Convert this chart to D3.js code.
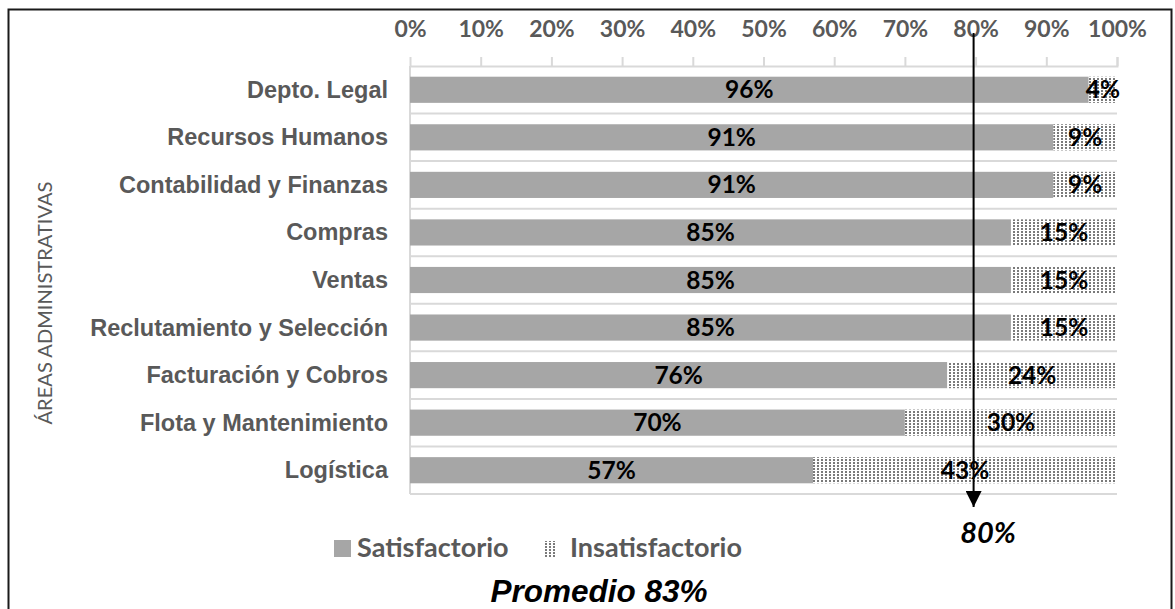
<!DOCTYPE html>
<html>
<head>
<meta charset="utf-8">
<script src="https://cdn.jsdelivr.net/npm/d3@7"></script>
<style>
  html, body { margin: 0; padding: 0; background: #fff; }
  svg { display: block; }
</style>
</head>
<body>
<script>
// Áreas administrativas y nivel de satisfacción
const categories = [
  "Depto. Legal", "Recursos Humanos", "Contabilidad y Finanzas", "Compras",
  "Ventas", "Reclutamiento y Selección", "Facturación y Cobros",
  "Flota y Mantenimiento", "Logística"
];
const satisfactorio = [96, 91, 91, 85, 85, 85, 76, 70, 57];
const insatisfactorio = [4, 9, 9, 15, 15, 15, 24, 30, 43];
const tickValues = [0, 10, 20, 30, 40, 50, 60, 70, 80, 90, 100];
const seriesNames = ["Satisfactorio", "Insatisfactorio"];
const meta = 80;
const promedio = 83;

const W = 1175, H = 609;
const svg = d3.select("body").append("svg").attr("width", W).attr("height", H);

const defs = svg.append("defs");
const pat = defs.append("pattern")
  .attr("id", "dots").attr("patternUnits", "userSpaceOnUse")
  .attr("width", 4).attr("height", 3);
pat.append("rect").attr("width", 4).attr("height", 3).attr("fill", "#fff");
pat.append("rect").attr("x", 1).attr("y", 0).attr("width", 2).attr("height", 2).attr("fill", "#7a7a7a");

// marco exterior
svg.append("rect").attr("x", 8.5).attr("y", 9.5).attr("width", 1163).attr("height", 700)
  .attr("fill", "none").attr("stroke", "#1a1a1a").attr("stroke-width", 2);

const x = d3.scaleLinear().domain([0, 100]).range([410, 1117]);
const y = d3.scaleBand().domain(categories).range([66, 494]).paddingInner(0.45).paddingOuter(0.225);
const step = y.step();

const gridColor = "#d9d9d9";

// líneas de separación entre categorías
svg.append("g").selectAll("line").data(d3.range(1, categories.length + 1)).join("line")
  .attr("x1", x(0)).attr("x2", x(100))
  .attr("y1", i => 66 + i * step).attr("y2", i => 66 + i * step)
  .attr("stroke", gridColor).attr("stroke-width", 2);

// eje de valores (superior)
const xAxis = d3.axisTop(x).tickValues(tickValues).tickSize(9).tickFormat(d => d + "%");
const gx = svg.append("g").attr("transform", "translate(0,66)").call(xAxis);
gx.select(".domain").attr("stroke", gridColor).attr("stroke-width", 2);
gx.selectAll(".tick line").attr("stroke", gridColor).attr("stroke-width", 2);
gx.selectAll(".tick text")
  .attr("y", -29).attr("dy", 0)
  .attr("fill", "#595959").attr("font-family", "Lato, sans-serif")
  .attr("font-weight", "bold").attr("font-size", 23);
gx.selectAll(".tick").filter(d => d === 0).select("line").remove();

// eje de categorías
svg.append("line").attr("x1", x(0)).attr("x2", x(0)).attr("y1", 66).attr("y2", 494)
  .attr("stroke", gridColor).attr("stroke-width", 2);

const rows = categories.map((c, i) => ({ c, s: satisfactorio[i], n: insatisfactorio[i] }));

svg.append("g").selectAll("rect").data(rows).join("rect")
  .attr("x", x(0)).attr("y", d => y(d.c))
  .attr("width", d => x(d.s) - x(0)).attr("height", y.bandwidth())
  .attr("fill", "#a6a6a6");

svg.append("g").selectAll("rect").data(rows).join("rect")
  .attr("x", d => x(d.s)).attr("y", d => y(d.c))
  .attr("width", d => x(d.s + d.n) - x(d.s)).attr("height", y.bandwidth())
  .attr("fill", "url(#dots)");

// etiquetas de categoría
svg.append("g").selectAll("text").data(rows).join("text")
  .attr("x", 388).attr("y", d => y(d.c) + y.bandwidth() / 2 + 8)
  .attr("text-anchor", "end")
  .attr("font-family", "Liberation Sans, Arial, sans-serif")
  .attr("font-weight", "bold").attr("font-size", 23.5).attr("fill", "#595959")
  .text(d => d.c);

// etiquetas de valor
const valFont = { family: "Lato, sans-serif", size: 24.5 };
svg.append("g").selectAll("text").data(rows).join("text")
  .attr("x", d => x(d.s / 2)).attr("y", d => y(d.c) + y.bandwidth() / 2 + 8.5)
  .attr("text-anchor", "middle").attr("font-family", valFont.family)
  .attr("font-weight", "bold").attr("font-size", valFont.size).attr("fill", "#000")
  .text(d => d.s + "%");
svg.append("g").selectAll("text").data(rows).join("text")
  .attr("x", d => x(d.s + d.n / 2)).attr("y", d => y(d.c) + y.bandwidth() / 2 + 8.5)
  .attr("text-anchor", "middle").attr("font-family", valFont.family)
  .attr("font-weight", "bold").attr("font-size", valFont.size).attr("fill", "#000")
  .text(d => d.n + "%");

// título del eje de categorías
svg.append("text")
  .attr("transform", "translate(52,303) rotate(-90)")
  .attr("text-anchor", "middle")
  .attr("font-family", "Lato, sans-serif").attr("font-size", 20)
  .attr("fill", "#595959").attr("textLength", 243).attr("lengthAdjust", "spacingAndGlyphs")
  .text("ÁREAS ADMINISTRATIVAS");

// flecha de la meta
defs.append("marker").attr("id", "arrow").attr("viewBox", "0 0 10 10")
  .attr("refX", 10).attr("refY", 5)
  .attr("markerUnits", "userSpaceOnUse").attr("orient", "auto")
  .attr("markerWidth", 16).attr("markerHeight", 16)
  .append("path").attr("d", "M0,0 L10,5 L0,10 Z").attr("fill", "#000");
svg.append("line")
  .attr("x1", x(meta) - 2).attr("x2", x(meta) - 2).attr("y1", 33).attr("y2", 507)
  .attr("stroke", "#000").attr("stroke-width", 2).attr("marker-end", "url(#arrow)");

svg.append("text").attr("x", 988).attr("y", 543).attr("text-anchor", "middle")
  .attr("font-family", "Lato, sans-serif").attr("font-style", "italic").attr("font-weight", "bold")
  .attr("font-size", 29).attr("fill", "#000")
  .text(meta + "%");

// leyenda
const lg = svg.append("g");
lg.append("rect").attr("x", 334).attr("y", 540).attr("width", 17).attr("height", 17).attr("fill", "#a6a6a6");
lg.append("text").attr("x", 357).attr("y", 557)
  .attr("font-family", "Lato, sans-serif").attr("font-weight", "bold").attr("font-size", 27)
  .attr("fill", "#595959").text(seriesNames[0]);
lg.append("rect").attr("x", 545).attr("y", 541).attr("width", 12).attr("height", 16).attr("fill", "url(#dots)");
lg.append("text").attr("x", 570).attr("y", 557)
  .attr("font-family", "Lato, sans-serif").attr("font-weight", "bold").attr("font-size", 27)
  .attr("fill", "#595959").text(seriesNames[1]);

svg.append("text").attr("x", 599).attr("y", 602).attr("text-anchor", "middle")
  .attr("font-family", "Liberation Sans, Arial, sans-serif")
  .attr("font-weight", "bold").attr("font-style", "italic").attr("font-size", 31.5)
  .attr("fill", "#000").text("Promedio " + promedio + "%");
</script>
</body>
</html>
